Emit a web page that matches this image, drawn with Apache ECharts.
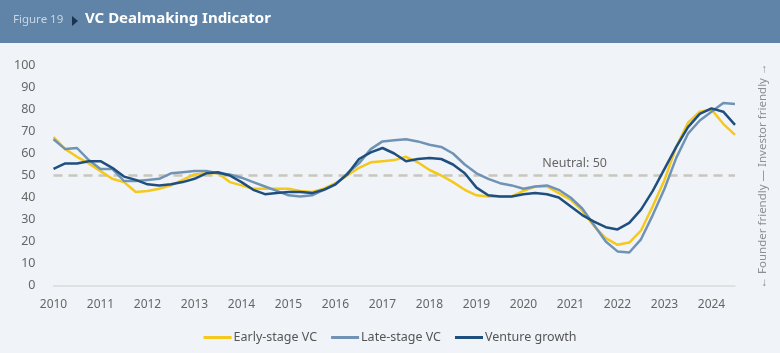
<!DOCTYPE html>
<html>
<head>
<meta charset="utf-8">
<script src="https://cdn.jsdelivr.net/npm/echarts@6/dist/echarts.min.js"></script>
<style>
  html, body { margin: 0; padding: 0; background: #f0f4f8; }
  #main { width: 780px; height: 353px; }
</style>
</head>
<body>
<div id="main"></div>
<script>
  // quarterly points, 2010 Q1 .. 2024 Q3
  const years = [2010, 2011, 2012, 2013, 2014, 2015, 2016, 2017, 2018, 2019, 2020, 2021, 2022, 2023, 2024];
  const quarters = [];
  years.forEach(y => {
    for (let q = 1; q <= 4; q++) {
      if (y === 2024 && q > 3) break;
      quarters.push(y + ' Q' + q);
    }
  });

  const earlyStage = [
    67.5, 62, 58.5, 55.5, 52, 48.5, 47, 42.5, 43, 44, 45.5, 48, 50.5, 51, 51,
    47, 45.5, 44, 44, 44, 44, 43, 42.5, 44, 46.5, 50, 53.5, 56, 56.5, 57,
    58.5, 56, 52.5, 50, 47, 43.5, 41, 40.5, 40.5, 40.5, 43, 45, 45, 42,
    39, 34, 27, 21.5, 18.5, 19.5, 25, 36, 48, 63, 74, 79, 80, 73.5, 68.5
  ];
  const lateStage = [
    66.5, 62, 62.5, 57, 53, 53, 47.5, 47.5, 48, 48.5, 51, 51.5, 52, 52, 51,
    50.5, 49, 47, 45, 43, 41, 40.5, 41, 43.5, 46, 51, 55.5, 62, 65.5, 66,
    66.5, 65.5, 64, 63, 60, 55, 51, 48.5, 46.5, 45.5, 44, 45, 45.5, 43.5,
    40, 35, 27.5, 20, 15.5, 15, 21, 32, 44, 58, 69, 75, 79, 83, 82.5
  ];
  const ventureGrowth = [
    53, 55.5, 55.5, 56.5, 56.5, 53.5, 49.5, 48, 46, 45.5, 46, 47, 48.5, 51, 51.5,
    50, 47, 43.5, 41.5, 42, 42.5, 42.5, 42, 43.5, 46, 50.5, 57.5, 60.5, 62.5, 60,
    56.5, 57.5, 58, 57.5, 55, 51, 44.5, 41, 40.5, 40.5, 41.5, 42, 41.5, 40,
    36, 32, 29, 26.5, 25.5, 28.5, 34.5, 43, 53, 63, 72, 78, 80.5, 79, 73
  ];
  const neutral = 50;

  const font = "'Noto Sans', 'Open Sans', sans-serif";
  const chart = echarts.init(document.getElementById('main'));

  const lineSeries = (name, data, color) => ({
    name: name,
    type: 'line',
    data: data,
    symbol: 'none',
    lineStyle: { color: color, width: 2.5 },
    itemStyle: { color: color },
    z: 3
  });

  const option = {
    backgroundColor: '#f0f4f8',
    animation: false,
    graphic: [
      { type: 'rect', left: 0, top: 0, shape: { width: 780, height: 43 }, style: { fill: '#5f84a7' } },
      { type: 'text', left: 13, top: 14, style: { text: 'Figure 19', fill: '#c9d6e3', font: "11.5px " + font } },
      { type: 'polygon', shape: { points: [[72, 16], [78, 21], [72, 26]] }, style: { fill: '#1b3350' } },
      { type: 'text', left: 85, top: 11, style: { text: 'VC Dealmaking Indicator', fill: '#ffffff', font: "bold 15px " + font } },
      {
        type: 'text', x: 763, y: 176, rotation: Math.PI / 2,
        style: {
          text: '\u2190 Founder friendly \u2014 Investor friendly \u2192',
          fill: '#8a8f96', font: "11.5px " + font, align: 'center', verticalAlign: 'middle'
        }
      }
    ],
    grid: { left: 53.5, right: 45, top: 65.5, bottom: 67.5 },
    legend: {
      left: 'center',
      top: 326,
      itemWidth: 28,
      itemHeight: 3,
      itemGap: 14,
      icon: 'rect',
      textStyle: { color: '#555', fontFamily: font, fontSize: 12.5, padding: [0, 0, 0, -3] },
      data: ['Early-stage VC', 'Late-stage VC', 'Venture growth']
    },
    xAxis: {
      type: 'category',
      data: quarters,
      boundaryGap: false,
      axisLine: { lineStyle: { color: '#d9d9d9', width: 1.5 } },
      axisTick: { show: false },
      axisLabel: {
        interval: 3,
        margin: 13,
        color: '#666',
        fontFamily: font,
        fontSize: 12,
        formatter: v => v.slice(0, 4)
      },
      splitLine: { show: false }
    },
    yAxis: {
      type: 'value',
      min: 0,
      max: 100,
      interval: 10,
      axisLine: { show: false },
      axisTick: { show: false },
      splitLine: { show: false },
      axisLabel: { color: '#666', fontFamily: font, fontSize: 12.5, margin: 18 }
    },
    series: [
      lineSeries('Early-stage VC', earlyStage, '#f4c81c'),
      lineSeries('Late-stage VC', lateStage, '#7093b5'),
      Object.assign(lineSeries('Venture growth', ventureGrowth, '#1f4f7e'), {
        markLine: {
          silent: true,
          symbol: 'none',
          z: 1,
          lineStyle: { color: '#c9c6bb', width: 2.5, type: [9, 6] },
          label: {
            formatter: 'Neutral: 50',
            position: 'insideEndTop',
            distance: [128, 6],
            color: '#666',
            fontFamily: font,
            fontSize: 12.5
          },
          data: [{ yAxis: neutral }]
        }
      })
    ]
  };
  chart.setOption(option);
</script>
</body>
</html>
